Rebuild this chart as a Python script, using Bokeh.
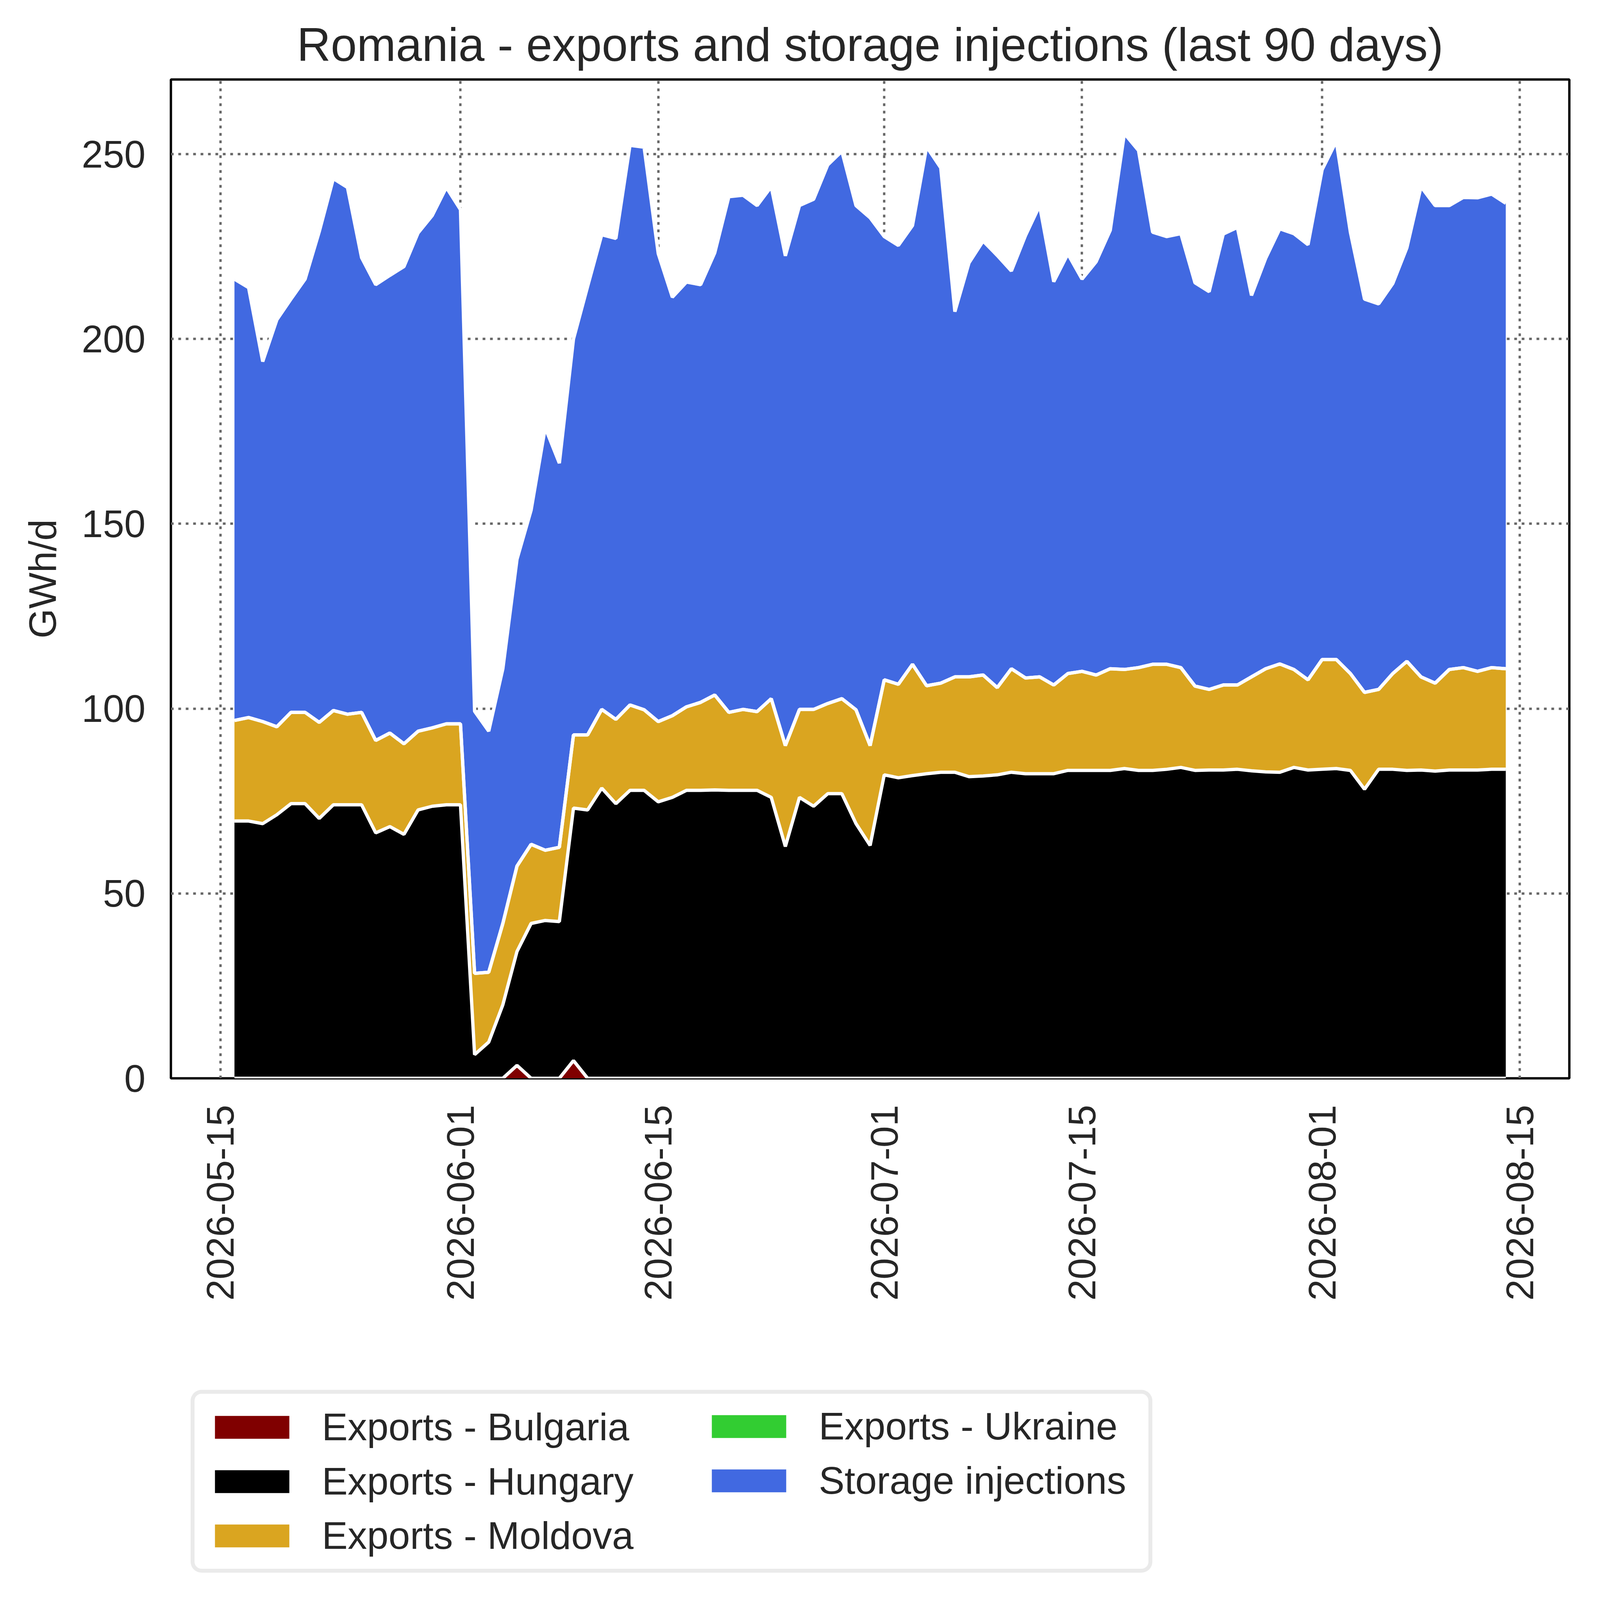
import math
import pandas as pd
from bokeh.plotting import figure
from bokeh.layouts import column
from bokeh.models import (ColumnDataSource, Range1d, FixedTicker, DatetimeTickFormatter,
                          Legend, LegendItem)
from bokeh.embed import file_html
from bokeh.resources import INLINE

dates = pd.date_range("2026-05-16", "2026-08-14", freq="D")

bulgaria = [0.0, 0.0, 0.0, 0.0, 0.0, 0.0, 0.0, 0.0, 0.0, 0.0,
            0.0, 0.0, 0.0, 0.0, 0.0, 0.0, 0.0, 0.0, 0.0, 0.0,
            3.5, 0.0, 0.0, 0.0, 4.8, 0.0, 0.0, 0.0, 0.0, 0.0,
            0.0, 0.0, 0.0, 0.0, 0.0, 0.0, 0.0, 0.0, 0.0, 0.0,
            0.0, 0.0, 0.0, 0.0, 0.0, 0.0, 0.0, 0.0, 0.0, 0.0,
            0.0, 0.0, 0.0, 0.0, 0.0, 0.0, 0.0, 0.0, 0.0, 0.0,
            0.0, 0.0, 0.0, 0.0, 0.0, 0.0, 0.0, 0.0, 0.0, 0.0,
            0.0, 0.0, 0.0, 0.0, 0.0, 0.0, 0.0, 0.0, 0.0, 0.0,
            0.0, 0.0, 0.0, 0.0, 0.0, 0.0, 0.0, 0.0, 0.0, 0.0,
            0.0]

hungary = [69.6, 69.6, 68.9, 71.3, 74.3, 74.3, 70.3, 74.0, 74.0, 74.0,
           66.4, 68.1, 66.0, 72.6, 73.6, 74.0, 74.0, 6.4, 9.8, 19.9,
           30.8, 41.9, 42.7, 42.4, 68.3, 72.6, 78.5, 74.3, 77.9, 77.9,
           74.8, 76.0, 77.9, 77.9, 78.0, 77.9, 77.9, 77.9, 76.0, 62.7,
           76.0, 73.6, 77.0, 77.0, 68.9, 63.0, 82.1, 81.3, 81.9, 82.4,
           82.8, 82.8, 81.6, 81.8, 82.1, 82.8, 82.4, 82.4, 82.4, 83.3,
           83.3, 83.3, 83.3, 83.8, 83.3, 83.3, 83.6, 84.1, 83.3, 83.4,
           83.4, 83.6, 83.2, 82.9, 82.8, 84.1, 83.4, 83.6, 83.8, 83.3,
           78.2, 83.6, 83.6, 83.3, 83.4, 83.1, 83.4, 83.4, 83.4, 83.6,
           83.6]

moldova = [27.2, 28.0, 27.6, 23.8, 24.7, 24.7, 26.0, 25.5, 24.5, 25.0,
           25.0, 25.3, 24.5, 21.3, 21.2, 21.9, 21.9, 22.0, 18.9, 22.0,
           23.1, 21.4, 19.0, 20.1, 19.8, 20.3, 21.3, 22.8, 23.1, 21.8,
           21.7, 22.1, 22.6, 23.8, 25.7, 21.1, 21.9, 21.3, 26.7, 27.3,
           23.8, 26.2, 24.4, 25.7, 30.8, 27.0, 25.7, 25.3, 30.1, 23.8,
           24.1, 25.8, 27.0, 27.3, 23.6, 28.0, 25.9, 26.2, 24.0, 26.2,
           26.8, 25.8, 27.5, 26.8, 27.8, 28.7, 28.4, 27.0, 22.8, 21.8,
           23.0, 22.8, 25.4, 27.9, 29.3, 26.5, 24.4, 29.7, 29.5, 26.2,
           26.2, 21.6, 25.9, 29.5, 25.2, 23.8, 27.2, 27.7, 26.7, 27.5,
           27.2]

ukraine = [0.0, 0.0, 0.0, 0.0, 0.0, 0.0, 0.0, 0.0, 0.0, 0.0,
           0.0, 0.0, 0.0, 0.0, 0.0, 0.0, 0.0, 0.0, 0.0, 0.0,
           0.0, 0.0, 0.0, 0.0, 0.0, 0.0, 0.0, 0.0, 0.0, 0.0,
           0.0, 0.0, 0.0, 0.0, 0.0, 0.0, 0.0, 0.0, 0.0, 0.0,
           0.0, 0.0, 0.0, 0.0, 0.0, 0.0, 0.0, 0.0, 0.0, 0.0,
           0.0, 0.0, 0.0, 0.0, 0.0, 0.0, 0.0, 0.0, 0.0, 0.0,
           0.0, 0.0, 0.0, 0.0, 0.0, 0.0, 0.0, 0.0, 0.0, 0.0,
           0.0, 0.0, 0.0, 0.0, 0.0, 0.0, 0.0, 0.0, 0.0, 0.0,
           0.0, 0.0, 0.0, 0.0, 0.0, 0.0, 0.0, 0.0, 0.0, 0.0,
           0.0]

storage = [119.4, 116.3, 97.4, 110.1, 111.8, 117.2, 132.7, 143.9, 142.5, 123.0,
           123.3, 123.8, 129.1, 134.8, 138.6, 145.1, 139.1, 70.9, 65.2, 68.9,
           83.0, 90.4, 114.3, 103.9, 107.1, 121.3, 128.4, 130.1, 151.4, 152.2,
           126.6, 113.2, 114.9, 113.0, 119.6, 139.5, 139.1, 136.9, 138.5, 132.5,
           136.3, 138.0, 145.7, 148.1, 136.4, 142.8, 119.9, 118.7, 118.7, 145.8,
           139.4, 98.8, 112.0, 117.4, 116.9, 107.6, 119.7, 127.5, 109.1, 113.5,
           106.1, 111.8, 118.6, 145.0, 139.9, 116.9, 115.7, 117.4, 109.1, 107.6,
           122.0, 123.8, 103.2, 111.0, 117.7, 117.9, 117.7, 132.5, 140.2, 119.4,
           106.4, 104.3, 105.5, 111.9, 132.6, 129.2, 125.5, 127.2, 128.1, 128.1,
           125.9]

series_names = ["Exports - Bulgaria", "Exports - Hungary", "Exports - Moldova",
                "Exports - Ukraine", "Storage injections"]
series_cols = ["bulgaria", "hungary", "moldova", "ukraine", "storage"]
series_colors = ["#800000", "#000000", "#DAA520", "#32CD32", "#4169E1"]

tick_labels = ["2026-05-15", "2026-06-01", "2026-06-15", "2026-07-01",
               "2026-07-15", "2026-08-01", "2026-08-15"]
y_ticks = [0, 50, 100, 150, 200, 250]

src = ColumnDataSource(dict(date=dates, bulgaria=bulgaria, hungary=hungary,
                            moldova=moldova, ukraine=ukraine, storage=storage))

FONT = "Liberation Sans"
TXT = "#262626"

x0 = pd.Timestamp("2026-05-11 12:00")
x1 = pd.Timestamp("2026-08-18 12:00")

W = 4080
MAIN_H = 3450
LEG_H = 630

p = figure(width=W, height=MAIN_H, x_axis_type="datetime",
           x_range=Range1d(x0, x1), y_range=Range1d(0, 270.2),
           output_backend="svg", toolbar_location=None,
           min_border_left=437, min_border_right=63,
           min_border_top=203, min_border_bottom=MAIN_H - 2760)
p.background_fill_color = "white"
p.border_fill_color = "white"
p.outline_line_color = "black"
p.outline_line_width = 6

p.title.text = "Romania - exports and storage injections (last 90 days)"
p.title.text_font = FONT
p.title.text_font_size = "120px"
p.title.text_font_style = "normal"
p.title.text_color = TXT
p.title.align = "center"
p.title.standoff = 45

p.varea_stack(series_cols, x="date", color=series_colors, source=src)
p.vline_stack(series_cols, x="date", color="white", line_width=8.5, source=src)

tick_ms = [pd.Timestamp(t).value / 1e6 for t in tick_labels]
p.xaxis.ticker = FixedTicker(ticks=tick_ms)
fmt = "%Y-%m-%d"
p.xaxis.formatter = DatetimeTickFormatter(milliseconds=fmt, seconds=fmt, minsec=fmt,
                                          minutes=fmt, hourmin=fmt, hours=fmt, days=fmt,
                                          months=fmt, years=fmt)
p.xaxis.major_label_orientation = math.pi / 2
p.yaxis.ticker = FixedTicker(ticks=y_ticks)
p.yaxis.axis_label = "GWh/d"

for ax in (p.xaxis[0], p.yaxis[0]):
    ax.axis_line_color = None
    ax.major_tick_line_color = None
    ax.minor_tick_line_color = None
    ax.major_tick_out = 0
    ax.major_tick_in = 0
    ax.major_label_text_font = FONT
    ax.major_label_text_font_size = "98px"
    ax.major_label_text_color = TXT
    ax.axis_label_text_font = FONT
    ax.axis_label_text_font_size = "98px"
    ax.axis_label_text_font_style = "normal"
    ax.axis_label_text_color = TXT
p.xaxis.major_label_standoff = 68
p.yaxis.major_label_standoff = 65
p.yaxis.axis_label_standoff = 42

for g in (p.xgrid[0], p.ygrid[0]):
    g.grid_line_color = "#666666"
    g.grid_line_width = 6
    g.grid_line_dash = "7 12"
p.xgrid.ticker = FixedTicker(ticks=tick_ms)
p.ygrid.ticker = FixedTicker(ticks=y_ticks)

# legend panel below the chart (its frame is aligned with the chart frame)
lf = figure(width=W, height=LEG_H, x_range=Range1d(0, 1), y_range=Range1d(0, 1),
            output_backend="svg", toolbar_location=None,
            x_axis_location=None, y_axis_location=None,
            min_border_left=437, min_border_right=63, min_border_top=0, min_border_bottom=0)
lf.outline_line_color = None
lf.grid.visible = False
lf.background_fill_color = "white"
lf.border_fill_color = "white"

items = []
for name, c in zip(series_names, series_colors):
    # swatch-only renderer, placed outside the visible range
    r = lf.varea(x=[5, 6], y1=[5, 5], y2=[6, 6], fill_color=c)
    items.append(LegendItem(label=name, renderers=[r]))

def style_legend(lg):
    lg.label_text_font = FONT
    lg.label_text_font_size = "99px"
    lg.label_text_color = TXT
    lg.glyph_width = 238
    lg.glyph_height = 73
    lg.label_height = 113
    lg.label_standoff = 60
    lg.spacing = 25
    lg.padding = 28
    lg.margin = 0
    lg.orientation = "vertical"

leg1 = Legend(items=items[:3], location=(51, 54))
style_legend(leg1)
leg1.label_width = 2088
leg1.border_line_color = "#d6d6d6"
leg1.border_line_width = 10
leg1.border_radius = 28
leg1.background_fill_color = "white"
leg1.background_fill_alpha = 1.0

leg2 = Legend(items=items[3:], location=(1333, 205))
style_legend(leg2)
leg2.border_line_alpha = 0
leg2.background_fill_alpha = 0

lf.add_layout(leg1, "center")
lf.add_layout(leg2, "center")

page = column(p, lf, spacing=0)
open("out.html", "w").write(file_html(page, INLINE))
